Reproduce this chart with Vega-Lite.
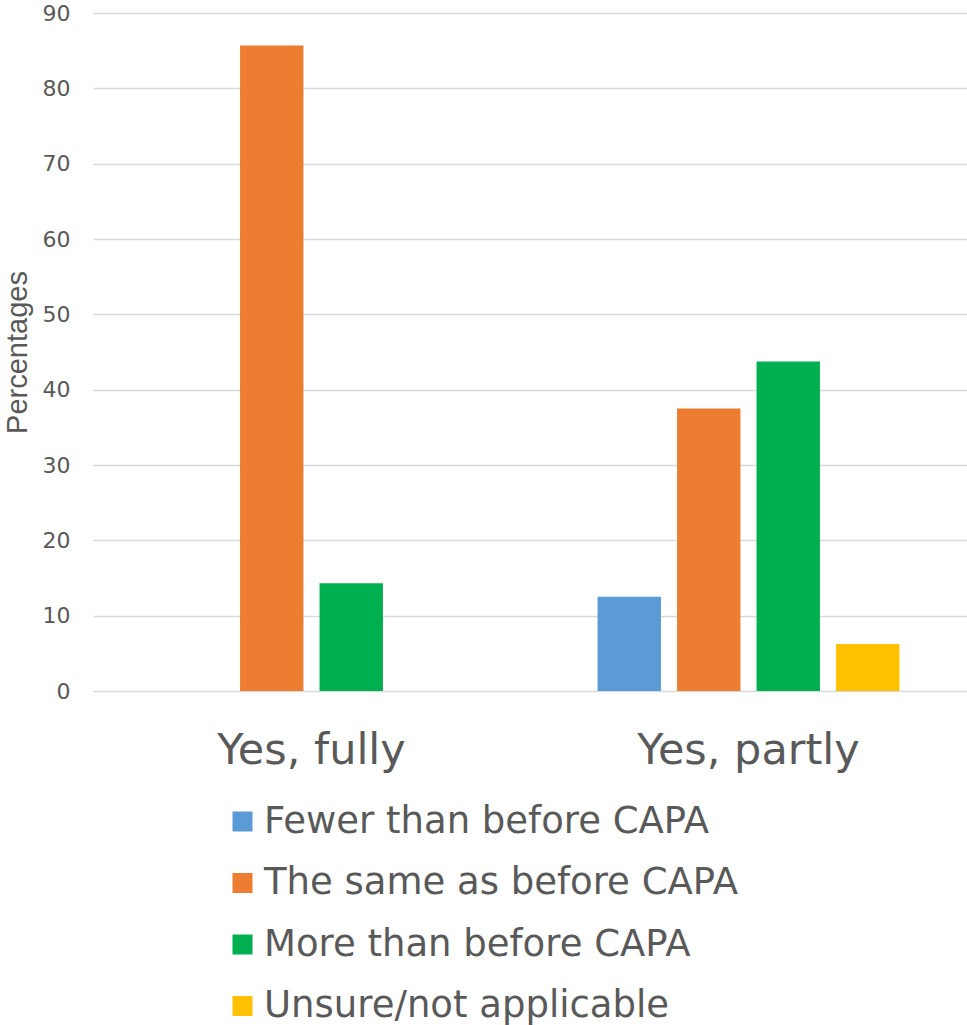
{
  "$schema": "https://vega.github.io/schema/vega-lite/v6.json",
  "autosize": {"type": "none"},
  "padding": {"left": 93, "top": 13, "right": 0, "bottom": 334},
  "width": 874,
  "height": 678,
  "background": "white",
  "config": {
    "view": {"stroke": null},
    "font": "DejaVu Sans"
  },
  "data": {
    "values": [
      {"answer": "Yes, fully", "change": "Fewer than before CAPA", "pct": 0},
      {"answer": "Yes, fully", "change": "The same as before CAPA", "pct": 85.7},
      {"answer": "Yes, fully", "change": "More than before CAPA", "pct": 14.3},
      {"answer": "Yes, fully", "change": "Unsure/not applicable", "pct": 0},
      {"answer": "Yes, partly", "change": "Fewer than before CAPA", "pct": 12.5},
      {"answer": "Yes, partly", "change": "The same as before CAPA", "pct": 37.5},
      {"answer": "Yes, partly", "change": "More than before CAPA", "pct": 43.75},
      {"answer": "Yes, partly", "change": "Unsure/not applicable", "pct": 6.25}
    ]
  },
  "mark": {"type": "bar"},
  "encoding": {
    "x": {
      "field": "answer",
      "type": "nominal",
      "sort": ["Yes, fully", "Yes, partly"],
      "scale": {"paddingInner": 0, "paddingOuter": 0},
      "axis": {
        "title": null,
        "labelAngle": 0,
        "labelFontSize": 43,
        "labelColor": "#595959",
        "labelPadding": 38,
        "labelLimit": 0,
        "ticks": false,
        "domain": false
      }
    },
    "xOffset": {
      "field": "change",
      "type": "nominal",
      "sort": ["Fewer than before CAPA", "The same as before CAPA", "More than before CAPA", "Unsure/not applicable"],
      "scale": {"paddingInner": 0.2025, "paddingOuter": 0.85}
    },
    "y": {
      "field": "pct",
      "type": "quantitative",
      "scale": {"domain": [0, 90], "nice": false},
      "axis": {
        "title": "Percentages",
        "titleFont": "Liberation Sans",
        "titleFontSize": 29,
        "titleFontWeight": "normal",
        "titleColor": "#595959",
        "titleX": -76,
        "titleY": 339,
        "titleAngle": 270,
        "titleAlign": "center",
        "titleBaseline": "middle",
        "values": [0, 10, 20, 30, 40, 50, 60, 70, 80, 90],
        "labelFontSize": 22,
        "labelColor": "#595959",
        "labelPadding": 23,
        "ticks": false,
        "domain": false,
        "grid": true,
        "gridColor": "#d9d9d9",
        "gridWidth": 1.5
      }
    },
    "color": {
      "field": "change",
      "type": "nominal",
      "sort": ["Fewer than before CAPA", "The same as before CAPA", "More than before CAPA", "Unsure/not applicable"],
      "scale": {
        "domain": ["Fewer than before CAPA", "The same as before CAPA", "More than before CAPA", "Unsure/not applicable"],
        "range": ["#5B9BD5", "#ED7D31", "#00B050", "#FFC000"]
      },
      "legend": {
        "title": null,
        "orient": "none",
        "legendX": 131,
        "legendY": 790,
        "direction": "vertical",
        "symbolType": "square",
        "symbolSize": 400,
        "symbolStrokeWidth": 0,
        "labelFontSize": 37,
        "labelColor": "#595959",
        "labelOffset": 3,
        "labelLimit": 0,
        "rowPadding": 23.5
      }
    }
  }
}
